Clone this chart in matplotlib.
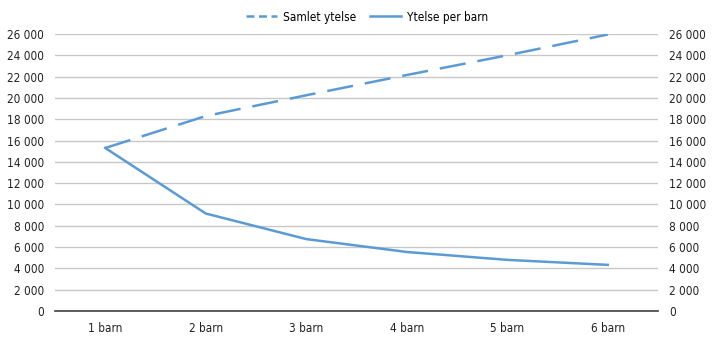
import matplotlib
matplotlib.use("Agg")
import matplotlib.pyplot as plt
from matplotlib.lines import Line2D
from matplotlib.ticker import FuncFormatter, MultipleLocator

categories = ["1 barn", "2 barn", "3 barn", "4 barn", "5 barn", "6 barn"]
samlet_ytelse = [15300, 18300, 20250, 22150, 24000, 25950]
ytelse_per_barn = [15300, 9150, 6750, 5540, 4800, 4330]

plt.rcParams["font.family"] = ["DejaVu Sans"]
plt.rcParams["font.stretch"] = "condensed"

blue = "#5b9bd5"
lw = 1.8

fig = plt.figure(figsize=(7.2, 3.41), dpi=100)
ax = fig.add_axes([55 / 720, 30 / 341, 603 / 720, 277 / 341])

x = range(len(categories))
ax.plot(x, samlet_ytelse, color=blue, lw=lw, dashes=(10.5, 4.8))
ax.plot(x, ytelse_per_barn, color=blue, lw=lw)

ax.set_xlim(-0.5, len(categories) - 0.5)
ax.set_ylim(0, 26000)
ax.yaxis.set_major_locator(MultipleLocator(2000))
fmt = FuncFormatter(lambda v, p: f"{int(v):,}".replace(",", " "))
ax.yaxis.set_major_formatter(fmt)
ax.set_xticks(list(x))
ax.set_xticklabels(categories)

ax.grid(axis="y", color="#c8c8c8", lw=1)
ax.set_axisbelow(True)
for s in ["top", "right", "left"]:
    ax.spines[s].set_visible(False)
ax.spines["bottom"].set_color("#404040")
ax.spines["bottom"].set_linewidth(1.2)
ax.tick_params(axis="both", length=0, labelsize=8.5, colors="#222222")
ax.tick_params(axis="x", pad=8)
ax.tick_params(axis="y", pad=8)

ax2 = ax.twinx()
ax2.set_ylim(ax.get_ylim())
ax2.yaxis.set_major_locator(MultipleLocator(2000))
ax2.yaxis.set_major_formatter(fmt)
for s in ax2.spines.values():
    s.set_visible(False)
ax2.tick_params(axis="y", length=0, labelsize=8.5, colors="#222222", pad=8)

handles = [
    Line2D([], [], color=blue, lw=lw, dashes=(3.2, 1.8)),
    Line2D([], [], color=blue, lw=lw),
]
fig.legend(handles, ["Samlet ytelse", "Ytelse per barn"], loc="upper center",
           bbox_to_anchor=(0.51, 1.0), ncol=2, frameon=False, fontsize=8.5,
           handlelength=2.6, columnspacing=1.2, handletextpad=0.5)

fig.savefig("out.png", dpi=100)
